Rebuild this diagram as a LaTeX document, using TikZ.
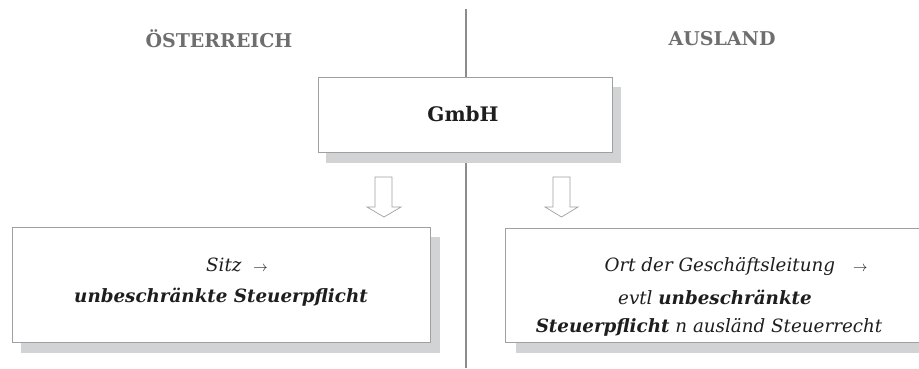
\documentclass[tikz,border=0pt]{standalone}
\usepackage{fontspec}
\setmainfont{DejaVu Serif}
\definecolor{headgray}{HTML}{6E6E6E}
\definecolor{linegray}{HTML}{8C8C8C}
\definecolor{boxgray}{HTML}{A0A0A0}
\definecolor{shadowgray}{HTML}{D2D3D5}
\definecolor{txt}{HTML}{1E1E1E}
\newcommand{\sarrow}{{\fontsize{14}{16}\selectfont$\rightarrow$}}
\begin{document}
\begin{tikzpicture}[x=1pt,y=-1pt,
  box/.style={draw=boxgray, line width=0.8pt, fill=white},
  head/.style={font=\bfseries\fontsize{19}{23}\selectfont, text=headgray},
  body/.style={font=\itshape\fontsize{18.3}{22}\selectfont, text=txt, align=center, inner sep=0pt},
  fatarrow/.style={draw=boxgray, line width=0.7pt, fill=white}]
\useasboundingbox (0,0) rectangle (919,368);
% divider
\coordinate (dtop) at (465.5,9);
\coordinate (dbot) at (465.5,368);
\draw[linegray, line width=2pt] (dtop) -- (dbot);
% headers
\node[head] (at) at (219,39) {ÖSTERREICH};
\node[head] (au) at (722,39) {AUSLAND};
% GmbH box
\fill[shadowgray] (326,87) rectangle (621,163);
\draw[box] (318,77) rectangle (612,152);
\node[font=\bfseries\fontsize{20}{24}\selectfont, text=txt] (g) at (463,114) {GmbH};
% left box
\fill[shadowgray] (21,237) rectangle (440,353);
\draw[box] (12,227) rectangle (430,342);
\node[body] (l1) at (237,265) {Sitz\hspace{12pt}\sarrow};
\node[body] (l2) at (221,297) {\bfseries unbeschränkte Steuerpflicht};
% right box
\fill[shadowgray] (516,238) rectangle (930,353);
\draw[box] (505,228) rectangle (930,342);
\node[body] (r1) at (736,267) {Ort der Geschäftsleitung\hspace{18pt}\sarrow};
\node[body] (r2) at (715,297) {evtl \textbf{unbeschränkte}};
\node[body] (r3) at (709,327) {\textbf{Steuerpflicht} n ausländ Steuerrecht};
% block arrows
\draw[fatarrow] (375,177) -- (392,177) -- (392,207) -- (401,207) -- (384,217) -- (367,207) -- (375,207) -- cycle;
\draw[fatarrow] (553,177) -- (570,177) -- (570,207) -- (578,207) -- (561.5,217) -- (545,207) -- (553,207) -- cycle;
\end{tikzpicture}
\end{document}
